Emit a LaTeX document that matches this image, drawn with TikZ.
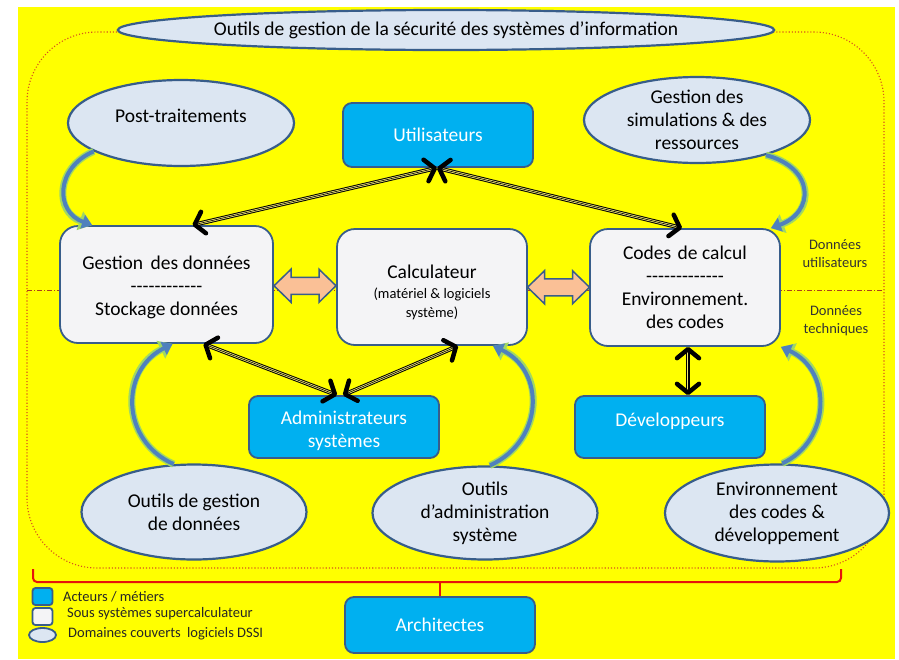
\documentclass[tikz,border=0pt]{standalone}
\usepackage{fontspec}
\setmainfont{Carlito}
\usetikzlibrary{arrows.meta,calc,shapes.geometric}
\definecolor{bgy}{RGB}{255,255,0}
\definecolor{bfill}{RGB}{0,176,240}
\definecolor{bord}{RGB}{56,93,138}
\definecolor{efill}{RGB}{220,230,242}
\definecolor{wfill}{RGB}{244,244,246}
\definecolor{dotc}{RGB}{215,80,30}
\definecolor{peach}{RGB}{250,192,150}
\definecolor{cblue}{RGB}{79,129,189}
\definecolor{cgreen}{RGB}{160,215,100}
\definecolor{ylin}{RGB}{240,230,120}
\definecolor{brk}{RGB}{230,20,10}
\newcommand\hy{\hbox{-}}
\newcommand\smf{\fontsize{14.5}{18}\selectfont}
\newcommand\dnstrut{\rule[-14pt]{0pt}{1pt}}
\newcommand\upstrut[1]{\rule{0pt}{#1}}
\newcommand\blk[2]{%
  \draw[line width=4.2pt] ($(#1)!5pt!(#2)$) -- ($(#2)!5pt!(#1)$);
  \draw[line width=2.2pt, ylin] ($(#1)!5pt!(#2)$) -- ($(#2)!5pt!(#1)$);
  \draw[line width=0.6pt] ($(#1)!5pt!(#2)$) -- ($(#2)!5pt!(#1)$);
  \draw[tipst] ($(#1)!1pt!(#2)$) -- (#1);
  \draw[tipst] ($(#2)!1pt!(#1)$) -- (#2);
}
\newcommand\curv[4]{%
  \draw[line width=7pt, cgreen, -{Triangle[length=13pt,width=19pt]}] (#1) .. controls #2 and #3 .. (#4);
  \draw[line width=4pt, cblue, -{Triangle[length=10pt,width=14pt]}] (#1) .. controls #2 and #3 .. (#4);
}
\newcommand\dblar[1]{%
  \draw[draw=bord, line width=1.5pt, fill=peach, line join=miter]
    ($(#1)+(-31,0)$) -- ++(17,-16.5) -- ++(0,8) -- ++(28,0) -- ++(0,-8) -- ++(17,16.5)
    -- ++(-17,16.5) -- ++(0,-8) -- ++(-28,0) -- ++(0,8) -- cycle;
}
\begin{document}
\begin{tikzpicture}[x=1pt,y=-1pt,
  mainfont/.style={font=\fontsize{19.5}{23}\selectfont},
  ell/.style={ellipse, draw=bord, line width=2.2pt, fill=efill, inner sep=0pt, align=center, mainfont},
  actor/.style={rectangle, rounded corners=9pt, draw=bord, line width=1.8pt, fill=bfill, text=white, inner sep=0pt, align=center, minimum width=190pt, mainfont},
  sub/.style={rectangle, rounded corners=18pt, draw=bord, line width=1.8pt, fill=wfill, inner sep=0pt, align=center, mainfont},
  small/.style={font=\smf},
  tipst/.style={line width=0.5pt, -{Straight Barb[length=9pt,width=22pt,line width=4.5pt,round]}},
]
\useasboundingbox (0,0) rectangle (899,659);
\fill[white] (0,0) rectangle (899,659);
\fill[bgy] (18,7) rectangle (895,659);
\draw[dotc, line width=1.1pt, dotted, rounded corners=70pt] (27,32) rectangle (884,568);
\draw[dotc!80!black, line width=0.8pt, dash pattern=on 5pt off 2pt on 1pt off 2pt] (27,290) -- (884,290);

\node[ell, minimum width=562pt, minimum height=40pt] (title) at (446,30) {Outils de gestion de la sécurité des systèmes d’information};
\node[ell, minimum width=226pt, minimum height=86pt] (post) at (181,123) {Post-traitements\dnstrut};
\node[ell, minimum width=226pt, minimum height=86pt] (sim) at (697,120) {Gestion des\\simulations \& des\\ressources};
\node[actor, minimum height=64pt] (util) at (438,135) {Utilisateurs};
\node[sub, minimum width=213pt, minimum height=117pt] (gest) at (166.5,284.5) {\upstrut{20pt}Gestion\hspace{3pt} des données\\\hy\hy\hy\hy\hy\hy\hy\hy\hy\hy\hy\hy\\Stockage données};
\node[sub, minimum width=190pt, minimum height=116pt] (calc) at (432,287) {\upstrut{25pt}Calculateur\\[-3pt]\smf(matériel \& logiciels\\[-4pt]\smf système)};
\node[sub, minimum width=190pt, minimum height=117pt] (codes) at (685,287.5) {Codes\hspace{2pt} de calcul\\\hy\hy\hy\hy\hy\hy\hy\hy\hy\hy\hy\hy\hy\\Environnement.\\des codes};
\node[actor, minimum height=62pt] (admin) at (344,427) {\upstrut{22pt}Administrateurs\\systèmes};
\node[actor, minimum height=62pt] (dev) at (670,427) {Développeurs\dnstrut};
\node[ell, minimum width=225pt, minimum height=95pt] (ogd) at (194,512) {Outils de gestion\\de données};
\node[ell, minimum width=225pt, minimum height=93pt] (oad) at (485,513) {Outils\\d’administration\\système};
\node[ell, minimum width=224pt, minimum height=97pt] (env) at (777,513) {Environnement\\des codes \&\\développement};
\node[actor, minimum height=56pt] (arch) at (440,625) {Architectes};

\node[small, align=center, text=black!80] (du) at (835,254) {Données\\utilisateurs};
\node[small, align=center, text=black!80] (dt) at (836,321) {Données\\techniques};

% legend
\node[rectangle, rounded corners=3pt, draw=bord, line width=1.8pt, fill=bfill, minimum width=20pt, minimum height=17pt, inner sep=0pt] (lg1) at (42.5,596.5) {};
\node[rectangle, rounded corners=3pt, draw=bord, line width=1.8pt, fill=wfill, minimum width=20pt, minimum height=17pt, inner sep=0pt] (lg2) at (42.5,616.5) {};
\node[ellipse, draw=bord, line width=1.8pt, fill=efill, minimum width=27pt, minimum height=14pt, inner sep=0pt] (lg3) at (42.5,635) {};
\node[small, anchor=west, inner sep=0pt, text=black!85] (lt1) at (63,597) {Acteurs / métiers};
\node[small, anchor=west, inner sep=0pt, text=black!85] (lt2) at (67,614) {Sous systèmes supercalculateur};
\node[small, anchor=west, inner sep=0pt, text=black!85] (lt3) at (68,634) {Domaines couverts\hspace{3pt} logiciels DSSI};

% bracket
\coordinate (brk) at (440,582);
\draw[brk, line width=2pt, rounded corners=4pt] (33,569) |- (brk) -| (841,569);
\draw[brk, line width=2pt] (brk) -- (arch.north);

% orange double arrows
\coordinate (o1) at ($(gest.east)!0.5!(calc.west)$);
\coordinate (o2) at ($(calc.east)!0.5!(codes.west)$);
\dblar{o1}
\dblar{o2}

% black arrows
\coordinate (u1) at ($(util.south)+(-1,0)$);
\coordinate (g1) at ($(gest.north)+(26,0)$);
\coordinate (c1) at ($(codes.north)+(-3,0)$);
\coordinate (g2) at ($(gest.south)+(37,0)$);
\coordinate (a1) at ($(admin.north)+(-7,0)$);
\coordinate (a2) at ($(admin.north)+(-1,0)$);
\coordinate (k1) at ($(calc.south)+(26,0)$);
\coordinate (c2) at ($(codes.south)+(3,0)$);
\coordinate (d1) at ($(dev.north)+(18,0)$);
\blk{u1}{g1}
\blk{u1}{c1}
\blk{g2}{a1}
\blk{k1}{a2}
\blk{c2}{d1}

% curved arrows
\coordinate (gp) at ($(gest.north west)+(33,0)$);
\coordinate (cp) at ($(codes.north east)+(-10,0)$);
\coordinate (gb) at ($(gest.south)+(6,0)$);
\coordinate (kb) at ($(calc.south)+(61,0)$);
\curv{post.198}{(55,168)}{(55,212)}{gp}
\curv{sim.333}{(815,168)}{(815,212)}{cp}
\curv{ogd.113}{(120,440)}{(120,370)}{gb}
\curv{oad.84}{(545,440)}{(545,370)}{kb}
\curv{env.84}{(832,440)}{(832,370)}{codes.south east}
\end{tikzpicture}
\end{document}
